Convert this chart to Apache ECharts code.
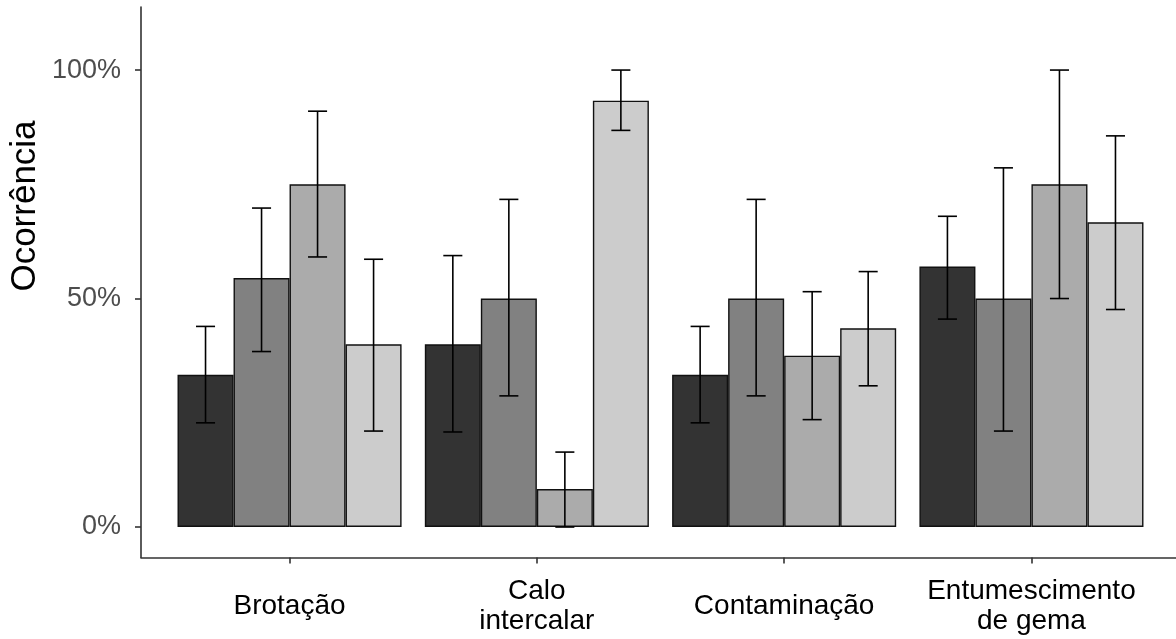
<!DOCTYPE html>
<html>
<head>
<meta charset="utf-8">
<script src="https://cdn.jsdelivr.net/npm/echarts@6/dist/echarts.min.js"></script>
<style>
  html, body { margin: 0; padding: 0; background: #ffffff; }
  #chart { width: 1176px; height: 639px; }
</style>
</head>
<body>
<div id="chart"></div>
<script>
// Categories on the x axis
const categories = ['Brotação', 'Calo\nintercalar', 'Contaminação', 'Entumescimento\nde gema'];

// Mean occurrence (fraction) for each of the four groups, per category
const group1Mean = [0.333, 0.400, 0.333, 0.570];
const group2Mean = [0.545, 0.500, 0.500, 0.500];
const group3Mean = [0.750, 0.083, 0.375, 0.750];
const group4Mean = [0.400, 0.933, 0.435, 0.667];

// Lower / upper ends of the error bars
const group1Low  = [0.228, 0.208, 0.228, 0.455];
const group1High = [0.439, 0.594, 0.439, 0.680];
const group2Low  = [0.384, 0.287, 0.287, 0.210];
const group2High = [0.698, 0.717, 0.717, 0.786];
const group3Low  = [0.591, 0.000, 0.235, 0.500];
const group3High = [0.910, 0.164, 0.515, 1.000];
const group4Low  = [0.210, 0.868, 0.309, 0.476];
const group4High = [0.586, 1.000, 0.559, 0.856];

// Y axis tick values
const yTicks = [0, 0.5, 1];

const means = [group1Mean, group2Mean, group3Mean, group4Mean];
const lows  = [group1Low, group2Low, group3Low, group4Low];
const highs = [group1High, group2High, group3High, group4High];
const fills = ['#333333', '#818181', '#ababab', '#cccccc'];

const FONT = "'Liberation Sans', Arial, sans-serif";
const CAT_GAP = 0.094;           // share of each category left empty
const Y_MIN = -0.0667, Y_MAX = 1.138;
const PLOT_TOP = 7, PLOT_H = 550.5;

const barSeries = means.map((vals, i) => ({
  type: 'bar',
  name: 'g' + (i + 1),
  xAxisIndex: 1,
  yAxisIndex: 1,
  data: vals,
  barGap: '0%',
  barCategoryGap: (CAT_GAP * 100) + '%',
  itemStyle: { color: fills[i], borderColor: '#111111', borderWidth: 1.4 },
  silent: true
}));

const errData = [];
means.forEach((vals, s) => {
  vals.forEach((v, c) => errData.push([c, s, lows[s][c], highs[s][c]]));
});

const errSeries = {
  type: 'custom',
  xAxisIndex: 1,
  yAxisIndex: 1,
  z: 10,
  silent: true,
  encode: { x: 0, y: [2, 3] },
  data: errData,
  renderItem: function (params, api) {
    const c = api.value(0), s = api.value(1);
    const lo = api.coord([c, api.value(2)]);
    const hi = api.coord([c, api.value(3)]);
    const band = api.size([1, 0])[0];
    const barW = band * (1 - CAT_GAP) / 4;
    const x = lo[0] + (s - 1.5) * barW;
    const cap = barW * 0.17;
    const style = { stroke: '#000000', lineWidth: 1.6 };
    return {
      type: 'group',
      children: [
        { type: 'line', shape: { x1: x, y1: lo[1], x2: x, y2: hi[1] }, style: style },
        { type: 'line', shape: { x1: x - cap, y1: lo[1], x2: x + cap, y2: lo[1] }, style: style },
        { type: 'line', shape: { x1: x - cap, y1: hi[1], x2: x + cap, y2: hi[1] }, style: style }
      ]
    };
  }
};

const option = {
  animation: false,
  backgroundColor: '#ffffff',
  grid: [
    // frame grid: carries both axis lines and the y scale
    { left: 141, top: PLOT_TOP, width: 1045, height: PLOT_H },
    // data grid: the four categories
    { left: 165.9, top: PLOT_TOP, width: 989.2, height: PLOT_H },
    // holder for the y axis title
    { left: 141, top: PLOT_TOP, width: 1045, height: 398 }
  ],
  xAxis: [
    {
      gridIndex: 0, type: 'value', min: 0, max: 1,
      axisLine: { show: true, onZero: false, lineStyle: { color: '#333333', width: 1.6 } },
      axisTick: { show: false }, axisLabel: { show: false }, splitLine: { show: false }
    },
    {
      gridIndex: 1, type: 'category', data: categories,
      axisLine: { show: false, onZero: false },
      axisTick: { show: true, alignWithLabel: true, length: 6, lineStyle: { color: '#333333', width: 1.6 } },
      axisLabel: {
        color: '#000000', fontFamily: FONT, fontSize: 28, lineHeight: 30,
        verticalAlign: 'middle', margin: 49, interval: 0
      },
      splitLine: { show: false }
    },
    {
      gridIndex: 2, type: 'value', min: 0, max: 1, show: false
    }
  ],
  yAxis: [
    {
      gridIndex: 0, type: 'value', min: Y_MIN, max: Y_MAX,
      axisLine: { show: true, onZero: false, lineStyle: { color: '#333333', width: 1.6 } },
      axisTick: { show: true, customValues: yTicks, length: 6, lineStyle: { color: '#333333', width: 1.6 } },
      axisLabel: {
        customValues: yTicks, color: '#4d4d4d', fontFamily: FONT, fontSize: 27, margin: 20,
        formatter: v => Math.round(v * 100) + '%'
      },
      splitLine: { show: false }
    },
    {
      gridIndex: 1, type: 'value', min: Y_MIN, max: Y_MAX, show: false,
      splitLine: { show: false }
    },
    {
      gridIndex: 2, type: 'value', min: 0, max: 1,
      name: 'Ocorrência', nameLocation: 'middle', nameRotate: 90, nameGap: 98,
      nameTextStyle: { color: '#000000', fontFamily: FONT, fontSize: 35 },
      axisLine: { show: false, onZero: false }, axisTick: { show: false },
      axisLabel: { show: false }, splitLine: { show: false }
    }
  ],
  series: barSeries.concat([errSeries])
};

const chart = echarts.init(document.getElementById('chart'), null, { renderer: 'canvas' });
chart.setOption(option);
</script>
</body>
</html>
